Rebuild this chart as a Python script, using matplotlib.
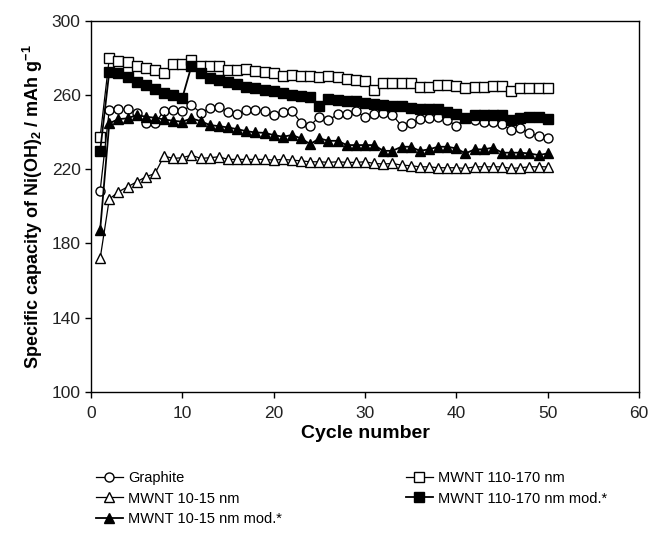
import matplotlib
matplotlib.use("Agg")
import matplotlib.pyplot as plt

plt.rcParams['font.family'] = ['Liberation Sans', 'DejaVu Sans']
plt.rcParams['mathtext.fontset'] = 'custom'
plt.rcParams['mathtext.rm'] = 'Liberation Sans'
plt.rcParams['mathtext.bf'] = 'Liberation Sans:bold'
plt.rcParams['mathtext.default'] = 'bf'

cycles = list(range(1, 51))
x_ticks = [0, 10, 20, 30, 40, 50, 60]
y_ticks = [100, 140, 180, 220, 260, 300]

graphite = [208.4, 251.9, 252.2, 252.2, 250.4, 244.7, 244.7, 251.5, 251.9, 251.3,
            254.6, 250.4, 252.8, 253.3, 251.0, 249.5, 251.9, 251.9, 251.3, 249.2,
            251.0, 251.5, 245.0, 243.5, 248.3, 246.5, 249.5, 249.5, 251.5, 247.9,
            249.5, 250.4, 249.2, 243.4, 244.7, 247.0, 247.4, 248.3, 246.5, 243.4,
            247.4, 246.5, 245.6, 245.6, 244.1, 241.1, 242.0, 239.6, 237.8, 236.6]

mwnt_10_15 = [171.9, 203.9, 207.8, 210.5, 213.2, 215.9, 217.7, 227.1, 225.8, 226.2,
              227.6, 225.8, 226.2, 226.7, 225.3, 225.3, 225.3, 225.3, 225.3, 224.9,
              225.3, 224.9, 224.5, 224.0, 224.0, 223.7, 224.0, 223.7, 223.7, 224.0,
              223.1, 222.8, 223.1, 222.2, 221.9, 221.3, 221.3, 220.8, 220.8, 220.8,
              220.4, 221.3, 221.3, 221.3, 221.3, 220.4, 220.8, 221.3, 221.3, 221.3]

mwnt_10_15_mod = [187.2, 244.7, 247.0, 247.4, 249.2, 248.3, 247.7, 246.8, 246.1, 245.6,
                  247.4, 245.9, 243.8, 243.2, 242.5, 241.6, 240.5, 239.8, 239.6, 238.4,
                  237.5, 238.4, 236.6, 233.5, 236.6, 235.3, 235.3, 233.0, 233.0, 233.0,
                  233.0, 229.9, 229.9, 232.1, 232.1, 229.9, 230.7, 232.1, 232.1, 231.2,
                  228.5, 230.7, 230.7, 231.6, 228.9, 228.9, 228.9, 228.5, 227.6, 228.5]

mwnt_110_170 = [237.5, 279.7, 278.5, 277.9, 275.6, 274.3, 273.4, 271.6, 276.5, 276.5,
                278.8, 275.6, 275.6, 275.6, 273.4, 273.4, 274.0, 272.9, 272.5, 271.6,
                270.4, 270.7, 270.2, 270.2, 269.8, 270.2, 269.5, 268.4, 268.0, 267.5,
                262.6, 266.2, 266.6, 266.6, 266.6, 264.4, 264.4, 265.3, 265.3, 265.0,
                263.9, 264.4, 264.4, 265.1, 265.1, 262.1, 263.5, 263.9, 263.9, 263.9]

mwnt_110_170_mod = [229.8, 272.5, 271.6, 269.8, 267.1, 265.3, 263.0, 260.8, 260.0, 258.5,
                    275.6, 272.0, 268.9, 268.0, 267.1, 265.9, 264.4, 263.5, 262.6, 262.1,
                    261.2, 260.0, 259.4, 258.7, 254.0, 257.8, 257.2, 256.7, 256.7, 255.8,
                    254.9, 254.4, 254.0, 254.0, 253.1, 252.2, 252.2, 252.2, 251.0, 249.5,
                    247.7, 249.2, 249.2, 249.2, 249.2, 246.5, 247.4, 247.9, 248.3, 247.2]

fig = plt.figure(figsize=(6.51, 5.34), dpi=100)
ax = fig.add_axes([0.1398, 0.266, 0.8418, 0.6952])

ms = 6.5
ax.plot(cycles, graphite, '-o', color='black', mfc='white', mec='black', ms=ms, lw=0.9, mew=1, label='Graphite')
ax.plot(cycles, mwnt_10_15, '-^', color='black', mfc='white', mec='black', ms=ms + 1, lw=0.9, mew=1, label='MWNT 10-15 nm')
ax.plot(cycles, mwnt_10_15_mod, '-^', color='black', mfc='black', mec='black', ms=ms + 1, lw=1.3, mew=1, label='MWNT 10-15 nm mod.*')
ax.plot(cycles, mwnt_110_170, '-s', color='black', mfc='white', mec='black', ms=ms, lw=0.9, mew=1, label='MWNT 110-170 nm')
ax.plot(cycles, mwnt_110_170_mod, '-s', color='black', mfc='black', mec='black', ms=ms, lw=1.3, mew=1, label='MWNT 110-170 nm mod.*')

ax.set_xlim(0, 60)
ax.set_ylim(100, 300)
ax.set_xticks(x_ticks)
ax.set_yticks(y_ticks)
ax.tick_params(direction='out', length=4, width=1, labelsize=12.5, colors='black', labelcolor='#222222')
ax.tick_params(axis='x', pad=6)
for s in ax.spines.values():
    s.set_linewidth(1)
ax.set_xlabel('Cycle number', fontsize=14, fontweight='bold', labelpad=3)
ax.set_ylabel(r'Specific capacity of Ni(OH)$_2$ / mAh g$^{-1}$', fontsize=13, fontweight='bold', labelpad=5)

fig.legend(loc='upper left', bbox_to_anchor=(0.148, 0.118), bbox_transform=fig.transFigure,
           ncol=2, frameon=False, fontsize=10.5, handlelength=1.8, handletextpad=0.4,
           columnspacing=8.5, labelspacing=0.45, borderaxespad=0, borderpad=0)

fig.savefig('out.png', dpi=100)
